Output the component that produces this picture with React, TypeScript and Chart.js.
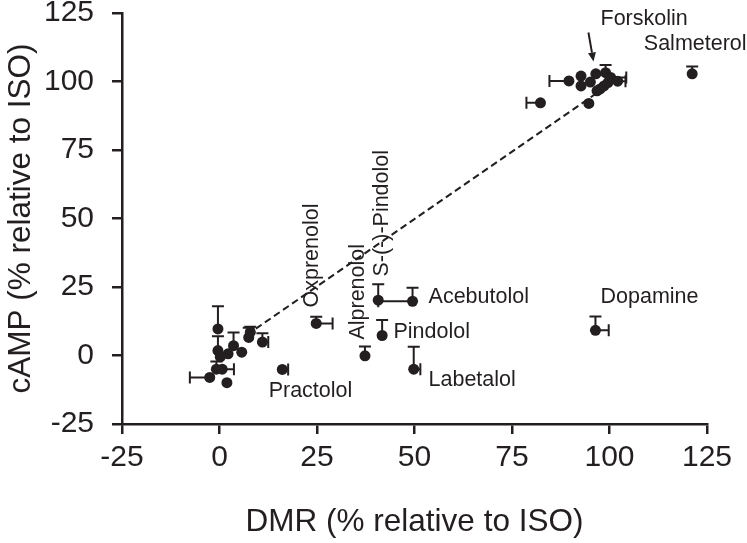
import React, { useEffect, useRef } from "react";
import { Chart, registerables } from "chart.js";

Chart.register(...registerables);

const INK = "#231f20";
const FONT = "'Liberation Sans', Arial, Helvetica, sans-serif";

// DMR (% relative to ISO)
const dmr = [
  -0.4, -0.4, 0.2, 2.2, 3.6, 5.7, 7.5, 7.9, 11.0, -2.5, -0.8, 0.7, 1.9,
  16.1, 24.8, 37.3, 40.7, 49.5, 41.7, 49.8, 96.4, 121.2,
  82.3, 89.6, 92.7, 92.7, 94.7, 95.1, 96.5, 96.8, 97.6, 98.6, 99.0, 99.6, 100.3, 102.1,
];
// cAMP (% relative to ISO)
const camp = [
  9.7, 1.8, -0.5, 0.6, 3.6, 1.2, 6.6, 8.5, 4.9, -8.0, -5.0, -5.0, -9.9,
  -5.1, 11.7, -0.1, 20.2, 19.8, 7.3, -5.0, 9.2, 102.8,
  92.2, 100.2, 102.0, 98.4, 92.0, 99.8, 102.8, 96.6, 97.3, 98.4, 103.2, 99.6, 101.5, 100.1,
];
// signed error bars (direction as drawn)
const dmrErr = [
  0, 0, 0, 0, 0, 0, 0, 0, 1.5, -5.1, 0, 3.0, 0,
  1.5, 4.2, 0, 0, -8.8, 0, 1.7, 3.4, 0,
  -3.6, -5.0, 0, 0, 0, 0, 0, 0, 0, 0, 0, 0, 4.0, 2.0,
];
const campErr = [
  8.3, 5.2, 0, 0, 4.8, 0, 3.5, 2.0, 3.2, 0, 2.8, 0, 0,
  0, 2.4, 3.4, 5.8, 4.9, 5.7, 8.2, 5.0, 2.7,
  0, 0, 0, 0, 0, 0, 0, 0, 0, 0, 2.8, 0, 0, 0,
];

// regression line end points
const fitX = [7, 99];
const fitY = [7.5, 98];

// annotation labels (data-space anchors)
const labelText = [
  "Forskolin", "Salmeterol", "Oxprenolol", "Alprenolol", "S-(-)-Pindolol",
  "Acebutolol", "Pindolol", "Labetalol", "Practolol", "Dopamine",
];
const labelX = [97.7, 108.8, 23.8, 35.6, 41.7, 53.6, 44.6, 53.6, 12.6, 97.7];
const labelY = [122.6, 113.5, 17.5, 5.8, 28.8, 21.2, 8.4, -8.8, -13.1, 21.2];
const labelVertical = [false, false, true, true, true, false, false, false, false, false];

// Forskolin arrow (tail -> head)
const arrowX = [94.6, 95.9];
const arrowY = [117.9, 107.3];

const axisMin = -25;
const axisMax = 125;
const axisStep = 25;

const errorBars = {
  id: "errorBars",
  beforeDatasetsDraw(chart: any) {
    const { ctx, scales } = chart;
    const xs = scales.x;
    const ys = scales.y;
    const cap = 6;
    ctx.save();
    ctx.strokeStyle = INK;
    ctx.lineWidth = 2;
    dmr.forEach((xv, i) => {
      const px = xs.getPixelForValue(xv);
      const py = ys.getPixelForValue(camp[i]);
      if (campErr[i]) {
        const ey = ys.getPixelForValue(camp[i] + campErr[i]);
        ctx.beginPath();
        ctx.moveTo(px, py);
        ctx.lineTo(px, ey);
        ctx.moveTo(px - cap, ey);
        ctx.lineTo(px + cap, ey);
        ctx.stroke();
      }
      if (dmrErr[i]) {
        const ex = xs.getPixelForValue(xv + dmrErr[i]);
        ctx.beginPath();
        ctx.moveTo(px, py);
        ctx.lineTo(ex, py);
        ctx.moveTo(ex, py - cap);
        ctx.lineTo(ex, py + cap);
        ctx.stroke();
      }
    });
    ctx.restore();
  },
};

const annotations = {
  id: "annotations",
  afterDatasetsDraw(chart: any) {
    const { ctx, scales } = chart;
    const xs = scales.x;
    const ys = scales.y;
    ctx.save();
    ctx.fillStyle = INK;
    ctx.font = `21.5px ${FONT}`;
    labelText.forEach((t, i) => {
      const px = xs.getPixelForValue(labelX[i]);
      const py = ys.getPixelForValue(labelY[i]);
      if (labelVertical[i]) {
        ctx.save();
        ctx.translate(px, py);
        ctx.rotate(-Math.PI / 2);
        ctx.textAlign = "left";
        ctx.textBaseline = "middle";
        ctx.fillText(t, 0, 0);
        ctx.restore();
      } else {
        ctx.textAlign = "left";
        ctx.textBaseline = "middle";
        ctx.fillText(t, px, py);
      }
    });
    // arrow
    const x0 = xs.getPixelForValue(arrowX[0]);
    const y0 = ys.getPixelForValue(arrowY[0]);
    const x1 = xs.getPixelForValue(arrowX[1]);
    const y1 = ys.getPixelForValue(arrowY[1]);
    const ang = Math.atan2(y1 - y0, x1 - x0);
    const head = 9;
    const hw = 4;
    const bx = x1 - head * Math.cos(ang);
    const by = y1 - head * Math.sin(ang);
    ctx.strokeStyle = INK;
    ctx.lineWidth = 2;
    ctx.beginPath();
    ctx.moveTo(x0, y0);
    ctx.lineTo(bx, by);
    ctx.stroke();
    ctx.beginPath();
    ctx.moveTo(x1, y1);
    ctx.lineTo(bx + hw * Math.sin(ang), by - hw * Math.cos(ang));
    ctx.lineTo(bx - hw * Math.sin(ang), by + hw * Math.cos(ang));
    ctx.closePath();
    ctx.fill();
    ctx.restore();
  },
};

export default function App() {
  const ref = useRef<HTMLCanvasElement | null>(null);
  useEffect(() => {
    document.body.style.margin = "0";
    const canvas = ref.current;
    if (!canvas) return;
    const points = dmr.map((x, i) => ({ x, y: camp[i] }));
    const fit = fitX.map((x, i) => ({ x, y: fitY[i] }));
    const axisCommon = (title: string, size: "x" | "y") => ({
      type: "linear" as const,
      min: axisMin,
      max: axisMax,
      ticks: {
        stepSize: axisStep,
        color: INK,
        font: { size: 30, family: FONT },
        padding: size === "y" ? 18 : 6,
      },
      grid: {
        display: true,
        drawOnChartArea: false,
        drawTicks: true,
        tickLength: 10,
        color: INK,
        lineWidth: 2.5,
      },
      border: { display: true, color: INK, width: 2.5 },
      title: {
        display: true,
        text: title,
        color: INK,
        font: { size: 31.5, family: FONT },
        padding: size === "y" ? { top: 2, bottom: 0 } : { top: 0, bottom: 2 },
      },
      afterFit: (s: any) => {
        if (size === "y") s.width = 122;
        else s.height = 119;
        s.paddingTop = 0;
        s.paddingBottom = 0;
        s.paddingLeft = 0;
        s.paddingRight = 0;
      },
    });
    const chart = new Chart(canvas, {
      type: "scatter",
      data: {
        datasets: [
          {
            data: points,
            backgroundColor: INK,
            borderWidth: 0,
            pointRadius: 5.5,
            pointHoverRadius: 5.5,
          },
          {
            data: fit,
            showLine: true,
            borderColor: INK,
            borderWidth: 2,
            borderDash: [7, 4],
            pointRadius: 0,
            fill: false,
          } as any,
        ],
      },
      options: {
        responsive: false,
        animation: false,
        devicePixelRatio: 1,
        layout: { padding: { top: 13, right: 40, left: 0, bottom: 0 } },
        plugins: {
          legend: { display: false },
          tooltip: { enabled: false },
        },
        scales: {
          x: axisCommon("DMR (% relative to ISO)", "x") as any,
          y: axisCommon("cAMP (% relative to ISO)", "y") as any,
        },
      },
      plugins: [errorBars, annotations],
    });
    return () => chart.destroy();
  }, []);
  return (
    <div style={{ width: 747, height: 543 }}>
      <canvas ref={ref} width={747} height={543} style={{ display: "block" }} />
    </div>
  );
}
